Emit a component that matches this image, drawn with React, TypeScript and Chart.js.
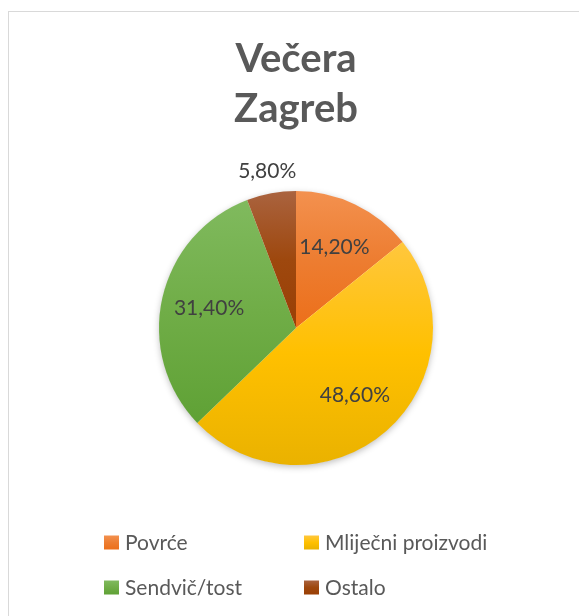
import React, { useEffect, useRef } from "react";
import { Chart, registerables } from "chart.js";

Chart.register(...registerables);

const titleLines = ["Večera", "Zagreb"];
const categories = ["Povrće", "Mliječni proizvodi", "Sendvič/tost", "Ostalo"];
const values = [14.2, 48.6, 31.4, 5.8];
const baseColors = ["#ED7D31", "#FFC000", "#70AD47", "#9E480E"];
const topColors = ["#F3914F", "#FFC73D", "#80BA5E", "#AA633F"];
const bottomColors = ["#EC6F1A", "#EAB200", "#5FA135", "#9A3F05"];

const FONT = "Lato, 'Open Sans', sans-serif";
const TEXT = "#595959";
const LABEL = "#404040";

function inRange(theta: number, a: number, b: number) {
  for (let k = -2; k <= 2; k++) {
    const t = theta + 2 * Math.PI * k;
    if (t >= a && t <= b) return true;
  }
  return false;
}

function sliceGradient(chart: any, index: number) {
  const area = chart.chartArea;
  if (!area) return baseColors[index];
  const cx = (area.left + area.right) / 2;
  const cy = (area.top + area.bottom) / 2;
  const r = Math.min(area.right - area.left, area.bottom - area.top) / 2;
  const total = values.reduce((s, v) => s + v, 0);
  let cum = 0;
  for (let i = 0; i < index; i++) cum += values[i];
  const a0 = -Math.PI / 2 + (2 * Math.PI * cum) / total;
  const a1 = a0 + (2 * Math.PI * values[index]) / total;
  const ys = [cy, cy + r * Math.sin(a0), cy + r * Math.sin(a1)];
  if (inRange(-Math.PI / 2, a0, a1)) ys.push(cy - r);
  if (inRange(Math.PI / 2, a0, a1)) ys.push(cy + r);
  const y0 = Math.min(...ys);
  const y1 = Math.max(...ys);
  const g = chart.ctx.createLinearGradient(0, y0, 0, y1 === y0 ? y0 + 1 : y1);
  g.addColorStop(0, topColors[index]);
  g.addColorStop(0.5, baseColors[index]);
  g.addColorStop(1, bottomColors[index]);
  return g;
}

const shadowPlugin = {
  id: "pieShadow",
  beforeDatasetsDraw(chart: any) {
    const arc = chart.getDatasetMeta(0).data[0];
    if (!arc) return;
    const { x, y, outerRadius } = arc.getProps(["x", "y", "outerRadius"], true);
    const ctx = chart.ctx;
    ctx.save();
    ctx.shadowColor = "rgba(0,0,0,0.28)";
    ctx.shadowBlur = 7;
    ctx.shadowOffsetX = 0;
    ctx.shadowOffsetY = 2;
    ctx.fillStyle = "#ffffff";
    ctx.beginPath();
    ctx.arc(x, y, outerRadius - 0.5, 0, Math.PI * 2);
    ctx.fill();
    ctx.restore();
  },
};

const labelPlugin = {
  id: "sliceLabels",
  afterDatasetsDraw(chart: any) {
    const ctx = chart.ctx;
    const meta = chart.getDatasetMeta(0);
    ctx.save();
    ctx.font = `21px ${FONT}`;
    ctx.fillStyle = LABEL;
    ctx.textAlign = "center";
    ctx.textBaseline = "middle";
    meta.data.forEach((arc: any, i: number) => {
      const { x, y, startAngle, endAngle, outerRadius } = arc.getProps(
        ["x", "y", "startAngle", "endAngle", "outerRadius"],
        true
      );
      const mid = (startAngle + endAngle) / 2;
      const dist = values[i] < 10 ? outerRadius * 1.16 : outerRadius * 0.65;
      const tx = x + Math.cos(mid) * dist;
      const ty = y + Math.sin(mid) * dist;
      const txt = values[i].toFixed(2).replace(".", ",") + "%";
      ctx.fillText(txt, tx, ty);
    });
    ctx.restore();
  },
};

const legendPlugin = {
  id: "gridLegend",
  afterDraw(chart: any) {
    const ctx = chart.ctx;
    const colX = [104, 304];
    const rowBoxTop = [535.5, 580.5];
    const rowBaseline = [549.5, 595];
    ctx.save();
    ctx.font = `21px ${FONT}`;
    ctx.textAlign = "left";
    ctx.textBaseline = "alphabetic";
    categories.forEach((name, i) => {
      const col = i % 2;
      const row = Math.floor(i / 2);
      const bx = colX[col];
      const by = rowBoxTop[row];
      const g = ctx.createLinearGradient(0, by, 0, by + 14);
      g.addColorStop(0, topColors[i]);
      g.addColorStop(0.5, baseColors[i]);
      g.addColorStop(1, bottomColors[i]);
      ctx.fillStyle = g;
      ctx.fillRect(bx, by, 15, 14);
      ctx.fillStyle = TEXT;
      ctx.fillText(name, bx + 21, rowBaseline[row]);
    });
    ctx.restore();
  },
};

export default function App() {
  const ref = useRef<HTMLCanvasElement | null>(null);
  useEffect(() => {
    if (!ref.current) return;
    const chart = new Chart(ref.current, {
      type: "pie",
      data: {
        labels: categories,
        datasets: [
          {
            data: values,
            backgroundColor: (c: any) => sliceGradient(c.chart, c.dataIndex),
            borderWidth: 0,
          },
        ],
      },
      options: {
        responsive: false,
        animation: false,
        devicePixelRatio: 1,
        rotation: 0,
        layout: { padding: { top: 0, left: 159, right: 146, bottom: 151 } },
        plugins: {
          legend: { display: false },
          tooltip: { enabled: false },
          title: {
            display: true,
            text: titleLines,
            color: TEXT,
            font: { family: FONT, size: 40, weight: "bold", lineHeight: 1.265 },
            padding: { top: 33.5, bottom: 56.3 },
          },
        },
      },
      plugins: [shadowPlugin, labelPlugin, legendPlugin],
    } as any);
    return () => chart.destroy();
  }, []);

  return (
    <div
      style={{
        position: "fixed",
        left: 0,
        top: 0,
        width: 579,
        height: 616,
        overflow: "hidden",
        background: "#ffffff",
      }}
    >
      <div
        style={{
          position: "absolute",
          left: 8,
          top: 11,
          width: 700,
          height: 700,
          border: "1px solid #D9D9D9",
          boxSizing: "border-box",
        }}
      />
      <canvas
        ref={ref}
        width={579}
        height={616}
        style={{ position: "absolute", left: 0, top: 0, width: 579, height: 616 }}
      />
    </div>
  );
}
